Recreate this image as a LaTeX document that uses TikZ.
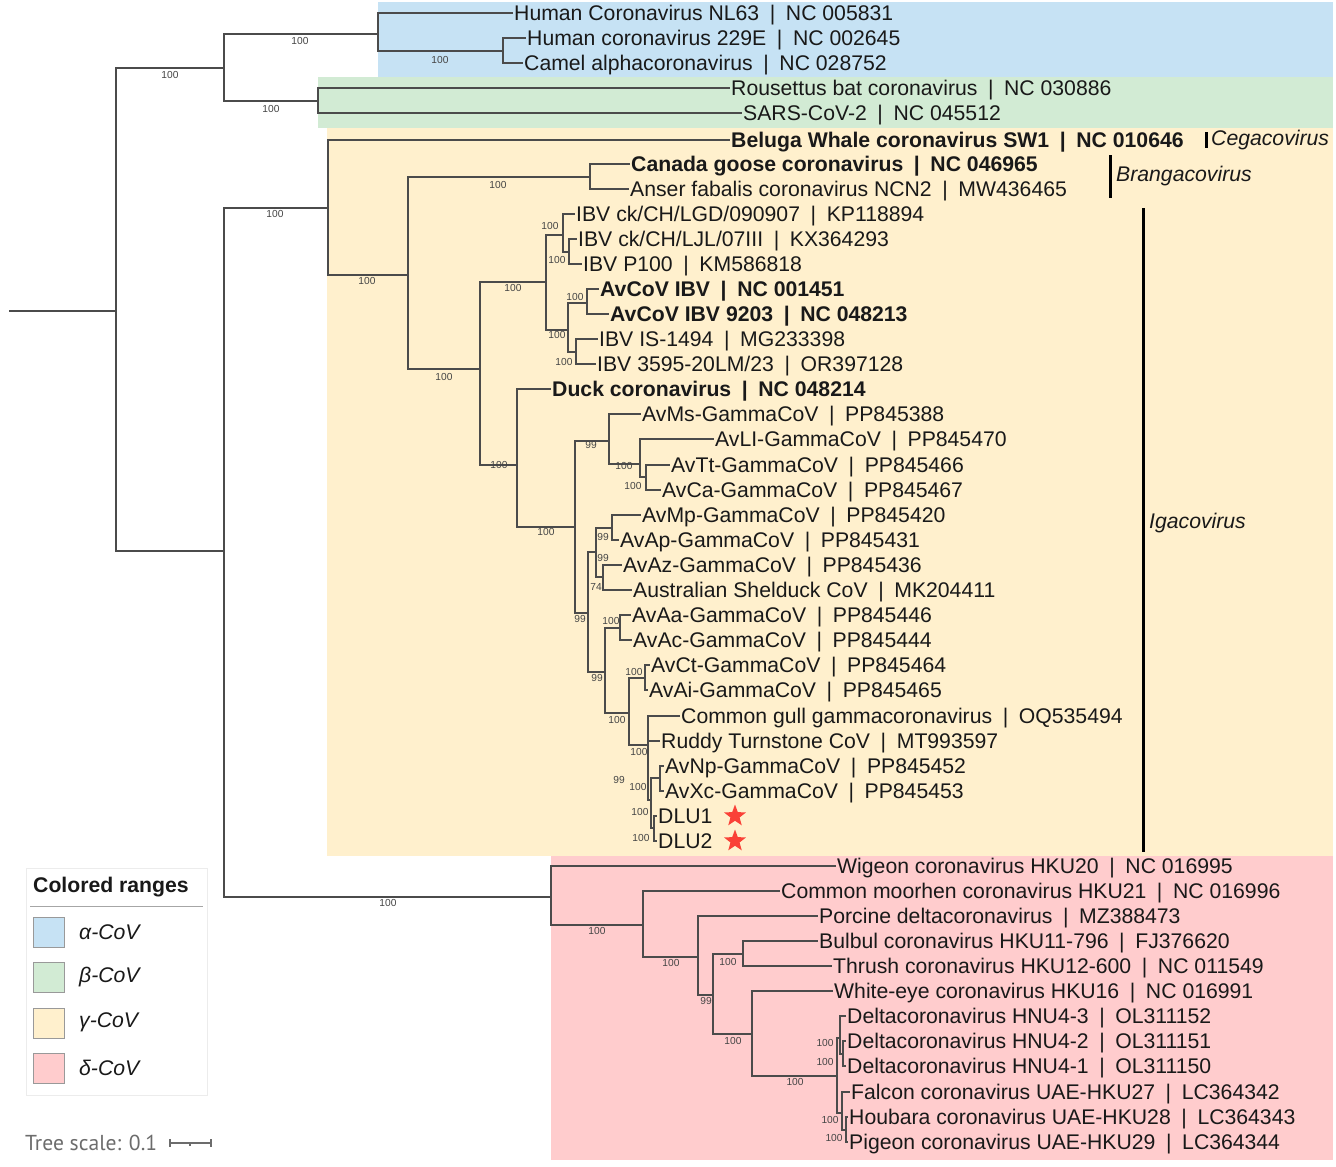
\documentclass[tikz,border=0pt]{standalone}
\usepackage{fontspec}
\setmainfont{Liberation Sans}
\newfontfamily\scalefont{PT Sans}
\usetikzlibrary{shapes.geometric}
\definecolor{cAlpha}{RGB}{198,226,244}
\definecolor{cBeta}{RGB}{210,235,212}
\definecolor{cGamma}{RGB}{255,240,205}
\definecolor{cDelta}{RGB}{255,204,205}
\definecolor{brc}{RGB}{75,75,75}
\definecolor{txc}{RGB}{25,25,25}
\definecolor{bsc}{RGB}{70,70,70}
\definecolor{starc}{RGB}{250,65,55}
\newcommand{\lf}{\fontsize{21.2}{24}\selectfont}
\newcommand{\bsf}{\fontsize{10.2}{11}\selectfont}
\newcommand{\sepbar}{\hspace{0.5em}|\hspace{0.5em}}
\tikzset{
  leaf/.style={anchor=west, inner sep=1pt, font=\lf, text=txc, text height=18pt, text depth=3.1pt},
  leafb/.style={leaf, font=\lf\bfseries},
  br/.style={draw=brc, line width=1.5pt},
  bsv/.style={font=\bsf, text=bsc, inner sep=0pt},
  clbar/.style={draw=black, line width=3pt},
  cladelab/.style={anchor=west, inner sep=1pt, font=\lf\itshape, text=txc},
  redstar/.style={star, star points=5, star point ratio=2.4, fill=starc, draw=none, minimum size=23pt, inner sep=0pt},
  swatch/.style={draw=gray!80, line width=0.8pt},
  legtxt/.style={anchor=west, inner sep=0pt, font=\lf\itshape, text=txc},
}
\begin{document}
\begin{tikzpicture}[x=1pt,y=-1pt]
\useasboundingbox (0,0) rectangle (1336,1167);
\fill[white] (0,0) rectangle (1336,1167);
% colored ranges
\fill[cAlpha] (378,2) rectangle (1333,77);
\fill[cBeta] (318,77) rectangle (1333,128);
\fill[cGamma] (327,128) rectangle (1333,856);
\fill[cDelta] (551,856) rectangle (1333,1160);

% leaves
\node[leaf] (l1) at (513,13) {Human Coronavirus NL63\sepbar NC 005831};
\node[leaf] (l2) at (526,38) {Human coronavirus 229E\sepbar NC 002645};
\node[leaf] (l3) at (523,63) {Camel alphacoronavirus\sepbar NC 028752};
\node[leaf] (l4) at (730,88) {Rousettus bat coronavirus\sepbar NC 030886};
\node[leaf] (l5) at (742,113) {SARS-CoV-2\sepbar NC 045512};
\node[leafb] (l6) at (730,140) {Beluga Whale coronavirus SW1\sepbar NC 010646};
\node[leafb] (l7) at (630,164) {Canada goose coronavirus\sepbar NC 046965};
\node[leaf] (l8) at (629,189) {Anser fabalis coronavirus NCN2\sepbar MW436465};
\node[leaf] (l9) at (575,214) {IBV ck/CH/LGD/090907\sepbar KP118894};
\node[leaf] (l10) at (577,239) {IBV ck/CH/LJL/07III\sepbar KX364293};
\node[leaf] (l11) at (582,264) {IBV P100\sepbar KM586818};
\node[leafb] (l12) at (599,289) {AvCoV IBV\sepbar NC 001451};
\node[leafb] (l13) at (609,314) {AvCoV IBV 9203\sepbar NC 048213};
\node[leaf] (l14) at (598,339) {IBV IS-1494\sepbar MG233398};
\node[leaf] (l15) at (596,364) {IBV 3595-20LM/23\sepbar OR397128};
\node[leafb] (l16) at (551,389) {Duck coronavirus\sepbar NC 048214};
\node[leaf] (l17) at (641,414) {AvMs-GammaCoV\sepbar PP845388};
\node[leaf] (l18) at (714,439) {AvLI-GammaCoV\sepbar PP845470};
\node[leaf] (l19) at (670,465) {AvTt-GammaCoV\sepbar PP845466};
\node[leaf] (l20) at (661,490) {AvCa-GammaCoV\sepbar PP845467};
\node[leaf] (l21) at (641,515) {AvMp-GammaCoV\sepbar PP845420};
\node[leaf] (l22) at (619,540) {AvAp-GammaCoV\sepbar PP845431};
\node[leaf] (l23) at (622,565) {AvAz-GammaCoV\sepbar PP845436};
\node[leaf] (l24) at (632,590) {Australian Shelduck CoV\sepbar MK204411};
\node[leaf] (l25) at (631,615) {AvAa-GammaCoV\sepbar PP845446};
\node[leaf] (l26) at (632,640) {AvAc-GammaCoV\sepbar PP845444};
\node[leaf] (l27) at (650,665) {AvCt-GammaCoV\sepbar PP845464};
\node[leaf] (l28) at (648,690) {AvAi-GammaCoV\sepbar PP845465};
\node[leaf] (l29) at (680,716) {Common gull gammacoronavirus\sepbar OQ535494};
\node[leaf] (l30) at (660,741) {Ruddy Turnstone CoV\sepbar MT993597};
\node[leaf] (l31) at (664,766) {AvNp-GammaCoV\sepbar PP845452};
\node[leaf] (l32) at (664,791) {AvXc-GammaCoV\sepbar PP845453};
\node[leaf] (l33) at (657,816) {DLU1};
\node[leaf] (l34) at (657,841) {DLU2};
\node[leaf] (l35) at (836,866) {Wigeon coronavirus HKU20\sepbar NC 016995};
\node[leaf] (l36) at (780,891) {Common moorhen coronavirus HKU21\sepbar NC 016996};
\node[leaf] (l37) at (818,916) {Porcine deltacoronavirus\sepbar MZ388473};
\node[leaf] (l38) at (818,941) {Bulbul coronavirus HKU11-796\sepbar FJ376620};
\node[leaf] (l39) at (832,966) {Thrush coronavirus HKU12-600\sepbar NC 011549};
\node[leaf] (l40) at (833,991) {White-eye coronavirus HKU16\sepbar NC 016991};
\node[leaf] (l41) at (846,1016) {Deltacoronavirus HNU4-3\sepbar OL311152};
\node[leaf] (l42) at (846,1041) {Deltacoronavirus HNU4-2\sepbar OL311151};
\node[leaf] (l43) at (846,1066) {Deltacoronavirus HNU4-1\sepbar OL311150};
\node[leaf] (l44) at (850,1092) {Falcon coronavirus UAE-HKU27\sepbar LC364342};
\node[leaf] (l45) at (848,1117) {Houbara coronavirus UAE-HKU28\sepbar LC364343};
\node[leaf] (l46) at (848,1142) {Pigeon coronavirus UAE-HKU29\sepbar LC364344};

\node[redstar] (s1) at (735,816) {};
\node[redstar] (s2) at (735,841) {};

% internal nodes
\coordinate (r0) at (9,311);
\coordinate (root) at (116,311);
\coordinate (ab) at (224,68);
\coordinate (al) at (378,34);
\coordinate (ac) at (503,51);
\coordinate (be) at (318,101);
\coordinate (gd) at (224,551);
\coordinate (ga) at (328,208);
\coordinate (S) at (408,275);
\coordinate (T) at (590,177);
\coordinate (U) at (480,369);
\coordinate (V) at (546,282);
\coordinate (X) at (563,235);
\coordinate (Z) at (569,252);
\coordinate (Y) at (568,330);
\coordinate (AA) at (587,303);
\coordinate (AB) at (576,352);
\coordinate (W) at (517,465);
\coordinate (A) at (575,527);
\coordinate (N1) at (609,441);
\coordinate (N2) at (640,464);
\coordinate (N3) at (646,477);
\coordinate (B) at (588,613);
\coordinate (C) at (596,552);
\coordinate (P1) at (612,528);
\coordinate (P2) at (603,577);
\coordinate (G) at (605,672);
\coordinate (Q) at (620,628);
\coordinate (H) at (629,713);
\coordinate (R) at (645,678);
\coordinate (I) at (648,745);
\coordinate (K) at (651,800);
\coordinate (L) at (660,778);
\coordinate (M) at (654,828);
\coordinate (D1) at (551,897);
\coordinate (D2) at (643,925);
\coordinate (D3) at (698,957);
\coordinate (D4) at (713,995);
\coordinate (D4a) at (743,954);
\coordinate (D5) at (752,1034);
\coordinate (D6) at (837,1076);
\coordinate (E1) at (840,1038);
\coordinate (E2) at (843,1054);
\coordinate (F1) at (842,1113);
\coordinate (F2) at (846,1130);

% branches
\draw[br] (r0) -- (root);
\draw[br] (root) |- (ab); \draw[br] (root) |- (gd);
\draw[br] (ab) |- (al); \draw[br] (ab) |- (be);
\draw[br] (al) |- (l1.west); \draw[br] (al) |- (ac);
\draw[br] (ac) |- (l2.west); \draw[br] (ac) |- (l3.west);
\draw[br] (be) |- (l4.west); \draw[br] (be) |- (l5.west);
\draw[br] (gd) |- (ga); \draw[br] (gd) |- (D1);
\draw[br] (ga) |- (l6.west); \draw[br] (ga) |- (S);
\draw[br] (S) |- (T); \draw[br] (S) |- (U);
\draw[br] (T) |- (l7.west); \draw[br] (T) |- (l8.west);
\draw[br] (U) |- (V); \draw[br] (U) |- (W);
\draw[br] (V) |- (X); \draw[br] (V) |- (Y);
\draw[br] (X) |- (l9.west); \draw[br] (X) |- (Z);
\draw[br] (Z) |- (l10.west); \draw[br] (Z) |- (l11.west);
\draw[br] (Y) |- (AA); \draw[br] (Y) |- (AB);
\draw[br] (AA) |- (l12.west); \draw[br] (AA) |- (l13.west);
\draw[br] (AB) |- (l14.west); \draw[br] (AB) |- (l15.west);
\draw[br] (W) |- (l16.west); \draw[br] (W) |- (A);
\draw[br] (A) |- (N1); \draw[br] (A) |- (B);
\draw[br] (N1) |- (l17.west); \draw[br] (N1) |- (N2);
\draw[br] (N2) |- (l18.west); \draw[br] (N2) |- (N3);
\draw[br] (N3) |- (l19.west); \draw[br] (N3) |- (l20.west);
\draw[br] (B) |- (C); \draw[br] (B) |- (G);
\draw[br] (C) |- (P1); \draw[br] (C) |- (P2);
\draw[br] (P1) |- (l21.west); \draw[br] (P1) |- (l22.west);
\draw[br] (P2) |- (l23.west); \draw[br] (P2) |- (l24.west);
\draw[br] (G) |- (Q); \draw[br] (G) |- (H);
\draw[br] (Q) |- (l25.west); \draw[br] (Q) |- (l26.west);
\draw[br] (H) |- (R); \draw[br] (H) |- (I);
\draw[br] (R) |- (l27.west); \draw[br] (R) |- (l28.west);
\draw[br] (I) |- (l29.west); \draw[br] (I) |- (l30.west); \draw[br] (I) |- (K);
\draw[br] (K) |- (L); \draw[br] (K) |- (M);
\draw[br] (L) |- (l31.west); \draw[br] (L) |- (l32.west);
\draw[br] (M) |- (l33.west); \draw[br] (M) |- (l34.west);
\draw[br] (D1) |- (l35.west); \draw[br] (D1) |- (D2);
\draw[br] (D2) |- (l36.west); \draw[br] (D2) |- (D3);
\draw[br] (D3) |- (l37.west); \draw[br] (D3) |- (D4);
\draw[br] (D4) |- (D4a); \draw[br] (D4) |- (D5);
\draw[br] (D4a) |- (l38.west); \draw[br] (D4a) |- (l39.west);
\draw[br] (D5) |- (l40.west); \draw[br] (D5) |- (D6);
\draw[br] (D6) |- (E1); \draw[br] (D6) |- (F1);
\draw[br] (E1) |- (l41.west); \draw[br] (E1) |- (E2);
\draw[br] (E2) |- (l42.west); \draw[br] (E2) |- (l43.west);
\draw[br] (F1) |- (l44.west); \draw[br] (F1) |- (F2);
\draw[br] (F2) |- (l45.west); \draw[br] (F2) |- (l46.west);

% bootstrap values
\node[bsv] (b1) at (170,75) {100};
\node[bsv] (b2) at (300,41) {100};
\node[bsv] (b3) at (440,60) {100};
\node[bsv] (b4) at (271,109) {100};
\node[bsv] (b5) at (275,214) {100};
\node[bsv] (b6) at (367,281) {100};
\node[bsv] (b7) at (498,185) {100};
\node[bsv] (b8) at (444,377) {100};
\node[bsv] (b9) at (513,288) {100};
\node[bsv] (b10) at (550,226) {100};
\node[bsv] (b11) at (557,260) {100};
\node[bsv] (b12) at (575,297) {100};
\node[bsv] (b13) at (557,335) {100};
\node[bsv] (b14) at (564,362) {100};
\node[bsv] (b15) at (499,465) {100};
\node[bsv] (b16) at (546,532) {100};
\node[bsv] (b17) at (591,445) {99};
\node[bsv] (b18) at (624,466) {100};
\node[bsv] (b19) at (633,486) {100};
\node[bsv] (b20) at (603,537) {99};
\node[bsv] (b21) at (603,558) {99};
\node[bsv] (b22) at (596,587) {74};
\node[bsv] (b23) at (580,619) {99};
\node[bsv] (b24) at (611,621) {100};
\node[bsv] (b25) at (597,678) {99};
\node[bsv] (b26) at (634,672) {100};
\node[bsv] (b27) at (617,720) {100};
\node[bsv] (b28) at (639,752) {100};
\node[bsv] (b29) at (619,780) {99};
\node[bsv] (b30) at (638,787) {100};
\node[bsv] (b31) at (640,812) {100};
\node[bsv] (b32) at (641,838) {100};
\node[bsv] (b33) at (388,903) {100};
\node[bsv] (b34) at (597,931) {100};
\node[bsv] (b35) at (671,963) {100};
\node[bsv] (b36) at (706,1001) {99};
\node[bsv] (b37) at (728,962) {100};
\node[bsv] (b38) at (733,1041) {100};
\node[bsv] (b39) at (795,1082) {100};
\node[bsv] (b40) at (825,1043) {100};
\node[bsv] (b41) at (825,1062) {100};
\node[bsv] (b42) at (830,1120) {100};
\node[bsv] (b43) at (834,1138) {100};

% clade labels
\draw[clbar] (1206,132) -- (1206,148);
\node[cladelab] (cega) at (1210,140) {Cegacovirus};
\draw[clbar] (1110,155) -- (1110,198);
\node[cladelab] (bran) at (1115,176) {Brangacovirus};
\draw[clbar] (1143,208) -- (1143,852);
\node[cladelab] (iga) at (1148,523) {Igacovirus};

% legend
\draw[gray!15, line width=1pt] (26,868) rectangle (207,1095);
\node[anchor=west, inner sep=0pt, font=\lf\bfseries, text=txc] (legt) at (33,887) {Colored ranges};
\draw[gray!70, line width=1pt] (30,906) -- (203,906);
\filldraw[swatch, fill=cAlpha] (33,917) rectangle (64,947);
\filldraw[swatch, fill=cBeta] (33,962) rectangle (64,992);
\filldraw[swatch, fill=cGamma] (33,1008) rectangle (64,1038);
\filldraw[swatch, fill=cDelta] (33,1053) rectangle (64,1083);
\node[legtxt] (la) at (79,932) {α-CoV};
\node[legtxt] (lb) at (79,977) {β-CoV};
\node[legtxt] (lg) at (79,1022) {γ-CoV};
\node[legtxt] (ld) at (79,1068) {δ-CoV};

% tree scale
\node[anchor=west, inner sep=0pt, font=\scalefont\fontsize{21.6}{24}\selectfont, text=gray!85!black] (tsc) at (25,1143) {Tree scale: 0.1};
\draw[gray!85!black, line width=1.2pt] (170,1139) -- (170,1147) (170,1143) -- (211,1143) (211,1139) -- (211,1147) (190,1143) -- (190,1146);
\end{tikzpicture}
\end{document}
